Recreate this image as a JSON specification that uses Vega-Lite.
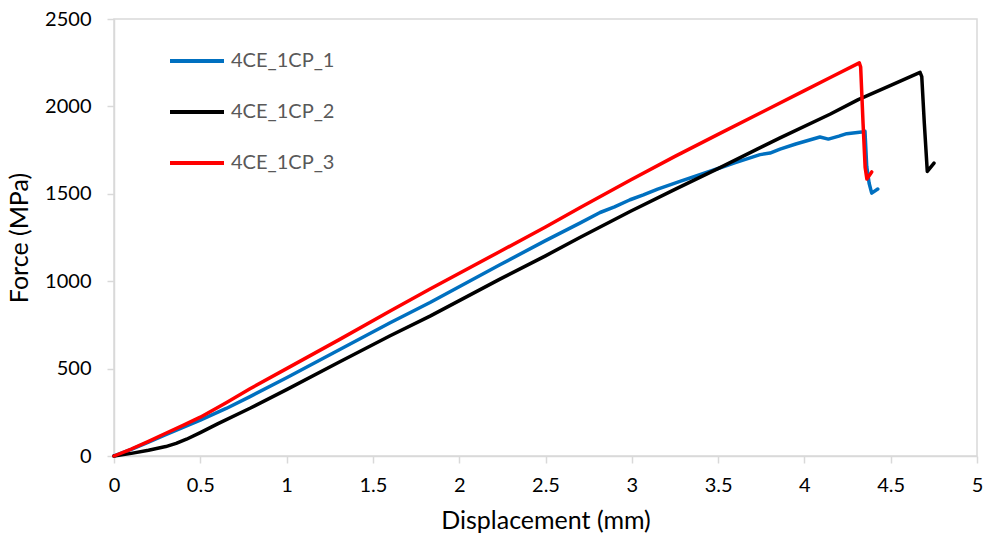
{
  "$schema": "https://vega.github.io/schema/vega-lite/v6.json",
  "width": 863,
  "height": 437,
  "autosize": {"type": "none"},
  "padding": {"left": 114, "top": 19, "right": 11, "bottom": 87},
  "background": "white",
  "config": {
    "font": "Lato",
    "view": {"stroke": "#d9d9d9", "strokeWidth": 1.5},
    "axis": {
      "domainColor": "#d9d9d9",
      "domainWidth": 1.5,
      "tickColor": "#d9d9d9",
      "tickWidth": 1.5,
      "tickSize": 7,
      "grid": false,
      "labelFontSize": 20,
      "labelColor": "#000000",
      "titleFontSize": 25,
      "titleFontWeight": "normal",
      "titleColor": "#000000"
    }
  },
  "data": {
    "values": [
      {"s": "4CE_1CP_1", "o": 1, "x": 0, "y": 0},
      {"s": "4CE_1CP_1", "o": 2, "x": 0.1, "y": 38},
      {"s": "4CE_1CP_1", "o": 3, "x": 0.2, "y": 80},
      {"s": "4CE_1CP_1", "o": 4, "x": 0.3, "y": 122},
      {"s": "4CE_1CP_1", "o": 5, "x": 0.4, "y": 163},
      {"s": "4CE_1CP_1", "o": 6, "x": 0.5, "y": 205},
      {"s": "4CE_1CP_1", "o": 7, "x": 0.65, "y": 272},
      {"s": "4CE_1CP_1", "o": 8, "x": 0.788, "y": 340},
      {"s": "4CE_1CP_1", "o": 9, "x": 1.0, "y": 448},
      {"s": "4CE_1CP_1", "o": 10, "x": 1.3, "y": 605},
      {"s": "4CE_1CP_1", "o": 11, "x": 1.6, "y": 762},
      {"s": "4CE_1CP_1", "o": 12, "x": 1.831, "y": 878},
      {"s": "4CE_1CP_1", "o": 13, "x": 2.236, "y": 1094},
      {"s": "4CE_1CP_1", "o": 14, "x": 2.5, "y": 1232},
      {"s": "4CE_1CP_1", "o": 15, "x": 2.699, "y": 1332},
      {"s": "4CE_1CP_1", "o": 16, "x": 2.816, "y": 1393},
      {"s": "4CE_1CP_1", "o": 17, "x": 2.9, "y": 1425},
      {"s": "4CE_1CP_1", "o": 18, "x": 2.99, "y": 1466},
      {"s": "4CE_1CP_1", "o": 19, "x": 3.067, "y": 1494},
      {"s": "4CE_1CP_1", "o": 20, "x": 3.15, "y": 1527},
      {"s": "4CE_1CP_1", "o": 21, "x": 3.279, "y": 1571},
      {"s": "4CE_1CP_1", "o": 22, "x": 3.492, "y": 1642},
      {"s": "4CE_1CP_1", "o": 23, "x": 3.6, "y": 1678},
      {"s": "4CE_1CP_1", "o": 24, "x": 3.743, "y": 1724},
      {"s": "4CE_1CP_1", "o": 25, "x": 3.801, "y": 1733},
      {"s": "4CE_1CP_1", "o": 26, "x": 3.859, "y": 1756},
      {"s": "4CE_1CP_1", "o": 27, "x": 3.95, "y": 1785},
      {"s": "4CE_1CP_1", "o": 28, "x": 4.09, "y": 1825},
      {"s": "4CE_1CP_1", "o": 29, "x": 4.139, "y": 1813},
      {"s": "4CE_1CP_1", "o": 30, "x": 4.2, "y": 1830},
      {"s": "4CE_1CP_1", "o": 31, "x": 4.245, "y": 1844},
      {"s": "4CE_1CP_1", "o": 32, "x": 4.332, "y": 1853},
      {"s": "4CE_1CP_1", "o": 33, "x": 4.351, "y": 1857},
      {"s": "4CE_1CP_1", "o": 34, "x": 4.361, "y": 1657},
      {"s": "4CE_1CP_1", "o": 35, "x": 4.375, "y": 1560},
      {"s": "4CE_1CP_1", "o": 36, "x": 4.39, "y": 1504},
      {"s": "4CE_1CP_1", "o": 37, "x": 4.425, "y": 1527},
      {"s": "4CE_1CP_2", "o": 1, "x": 0, "y": 0},
      {"s": "4CE_1CP_2", "o": 2, "x": 0.1, "y": 15},
      {"s": "4CE_1CP_2", "o": 3, "x": 0.2, "y": 33},
      {"s": "4CE_1CP_2", "o": 4, "x": 0.3, "y": 54},
      {"s": "4CE_1CP_2", "o": 5, "x": 0.36, "y": 72},
      {"s": "4CE_1CP_2", "o": 6, "x": 0.42, "y": 96},
      {"s": "4CE_1CP_2", "o": 7, "x": 0.5, "y": 134},
      {"s": "4CE_1CP_2", "o": 8, "x": 0.6, "y": 184},
      {"s": "4CE_1CP_2", "o": 9, "x": 0.788, "y": 273},
      {"s": "4CE_1CP_2", "o": 10, "x": 1.0, "y": 380},
      {"s": "4CE_1CP_2", "o": 11, "x": 1.3, "y": 535},
      {"s": "4CE_1CP_2", "o": 12, "x": 1.6, "y": 688},
      {"s": "4CE_1CP_2", "o": 13, "x": 1.831, "y": 800},
      {"s": "4CE_1CP_2", "o": 14, "x": 2.236, "y": 1012},
      {"s": "4CE_1CP_2", "o": 15, "x": 2.5, "y": 1145},
      {"s": "4CE_1CP_2", "o": 16, "x": 2.699, "y": 1250},
      {"s": "4CE_1CP_2", "o": 17, "x": 2.99, "y": 1399},
      {"s": "4CE_1CP_2", "o": 18, "x": 3.25, "y": 1525},
      {"s": "4CE_1CP_2", "o": 19, "x": 3.511, "y": 1650},
      {"s": "4CE_1CP_2", "o": 20, "x": 3.859, "y": 1820},
      {"s": "4CE_1CP_2", "o": 21, "x": 4.148, "y": 1955},
      {"s": "4CE_1CP_2", "o": 22, "x": 4.312, "y": 2039},
      {"s": "4CE_1CP_2", "o": 23, "x": 4.5, "y": 2120},
      {"s": "4CE_1CP_2", "o": 24, "x": 4.67, "y": 2195},
      {"s": "4CE_1CP_2", "o": 25, "x": 4.68, "y": 2170},
      {"s": "4CE_1CP_2", "o": 26, "x": 4.695, "y": 1900},
      {"s": "4CE_1CP_2", "o": 27, "x": 4.712, "y": 1628},
      {"s": "4CE_1CP_2", "o": 28, "x": 4.751, "y": 1676},
      {"s": "4CE_1CP_3", "o": 1, "x": 0, "y": 0},
      {"s": "4CE_1CP_3", "o": 2, "x": 0.1, "y": 40},
      {"s": "4CE_1CP_3", "o": 3, "x": 0.2, "y": 84},
      {"s": "4CE_1CP_3", "o": 4, "x": 0.3, "y": 130},
      {"s": "4CE_1CP_3", "o": 5, "x": 0.4, "y": 175},
      {"s": "4CE_1CP_3", "o": 6, "x": 0.5, "y": 222},
      {"s": "4CE_1CP_3", "o": 7, "x": 0.65, "y": 305},
      {"s": "4CE_1CP_3", "o": 8, "x": 0.788, "y": 385},
      {"s": "4CE_1CP_3", "o": 9, "x": 1.0, "y": 500},
      {"s": "4CE_1CP_3", "o": 10, "x": 1.3, "y": 663},
      {"s": "4CE_1CP_3", "o": 11, "x": 1.6, "y": 830},
      {"s": "4CE_1CP_3", "o": 12, "x": 1.831, "y": 955},
      {"s": "4CE_1CP_3", "o": 13, "x": 2.236, "y": 1170},
      {"s": "4CE_1CP_3", "o": 14, "x": 2.5, "y": 1310},
      {"s": "4CE_1CP_3", "o": 15, "x": 2.699, "y": 1420},
      {"s": "4CE_1CP_3", "o": 16, "x": 2.99, "y": 1578},
      {"s": "4CE_1CP_3", "o": 17, "x": 3.25, "y": 1714},
      {"s": "4CE_1CP_3", "o": 18, "x": 3.511, "y": 1846},
      {"s": "4CE_1CP_3", "o": 19, "x": 3.75, "y": 1965},
      {"s": "4CE_1CP_3", "o": 20, "x": 4.0, "y": 2090},
      {"s": "4CE_1CP_3", "o": 21, "x": 4.15, "y": 2165},
      {"s": "4CE_1CP_3", "o": 22, "x": 4.318, "y": 2249},
      {"s": "4CE_1CP_3", "o": 23, "x": 4.326, "y": 2225},
      {"s": "4CE_1CP_3", "o": 24, "x": 4.34, "y": 1900},
      {"s": "4CE_1CP_3", "o": 25, "x": 4.352, "y": 1650},
      {"s": "4CE_1CP_3", "o": 26, "x": 4.362, "y": 1585},
      {"s": "4CE_1CP_3", "o": 27, "x": 4.39, "y": 1625}
    ]
  },
  "mark": {"type": "line", "strokeWidth": 3.5, "strokeJoin": "round", "strokeCap": "round"},
  "encoding": {
    "x": {
      "field": "x",
      "type": "quantitative",
      "scale": {"domain": [0, 5], "nice": false, "zero": false},
      "axis": {
        "title": "Displacement (mm)",
        "values": [0, 0.5, 1, 1.5, 2, 2.5, 3, 3.5, 4, 4.5, 5],
        "format": "~g",
        "labelPadding": 12,
        "titlePadding": 13,
        "labelFlush": false
      }
    },
    "y": {
      "field": "y",
      "type": "quantitative",
      "scale": {"domain": [0, 2500], "nice": false},
      "axis": {
        "title": "Force (MPa)",
        "values": [0, 500, 1000, 1500, 2000, 2500],
        "format": "d",
        "labelPadding": 16,
        "titlePadding": 12,
        "labelFlush": false
      }
    },
    "color": {
      "field": "s",
      "type": "nominal",
      "scale": {
        "domain": ["4CE_1CP_1", "4CE_1CP_2", "4CE_1CP_3"],
        "range": ["#0070C0", "#000000", "#FF0000"]
      },
      "legend": {
        "title": null,
        "orient": "none",
        "legendX": 54,
        "legendY": 13,
        "padding": 0,
        "symbolType": "stroke",
        "symbolSize": 2916,
        "symbolStrokeWidth": 4,
        "labelFontSize": 20,
        "labelColor": "#595959",
        "labelOffset": 5,
        "rowPadding": 12
      }
    },
    "order": {"field": "o", "type": "quantitative"}
  }
}
